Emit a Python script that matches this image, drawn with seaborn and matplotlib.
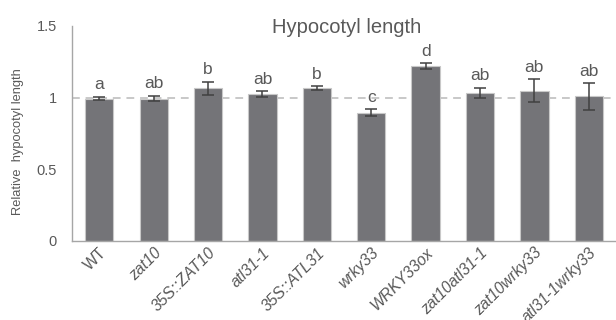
import numpy as np
import pandas as pd
import matplotlib
matplotlib.use("Agg")
import matplotlib.pyplot as plt
import matplotlib.transforms as mtransforms
import seaborn as sns

# Data
genotypes = ["WT", "zat10", "35S::ZAT10", "atl31-1", "35S::ATL31",
             "wrky33", "WRKY33ox", "zat10atl31-1", "zat10wrky33", "atl31-1wrky33"]
rel_length = [0.993, 0.993, 1.065, 1.026, 1.066, 0.895, 1.219, 1.033, 1.049, 1.009]
sem = [0.013, 0.020, 0.046, 0.021, 0.013, 0.022, 0.021, 0.037, 0.082, 0.093]
letters = ["a", "ab", "b", "ab", "b", "c", "d", "ab", "ab", "ab"]
yticks = [0, 0.5, 1, 1.5]
ytick_labels = ["0", "0.5", "1", "1.5"]

sns.set_style("white")
plt.rcParams["font.family"] = ["Liberation Sans", "DejaVu Sans"]

text_col = "#595959"
axis_col = "#a6a6a6"

df = pd.DataFrame({"genotype": genotypes, "value": rel_length})

fig = plt.figure(figsize=(6.16, 3.2), dpi=100)
ax = fig.add_axes([0.117, 0.247, 0.883, 0.672])

sns.barplot(data=df, x="genotype", y="value", color="#747478", saturation=1,
            width=0.52, edgecolor="#c8c8c8", linewidth=0.8, ax=ax, zorder=2)

# reference line at 1
ax.axhline(1, color="#c8c8c8", linestyle=(0, (4, 3)), linewidth=1.4, zorder=1)

x = np.arange(len(genotypes))
ax.errorbar(x, rel_length, yerr=sem, fmt="none", ecolor="#404040",
            elinewidth=1.1, capsize=4, capthick=1.1, zorder=3)

# significance letters
for xi, v, e, lab in zip(x, rel_length, sem, letters):
    ax.text(xi, v + e + 0.03, lab, ha="center", va="bottom",
            fontsize=12.5, color=text_col)

ax.set_title("Hypocotyl length", fontsize=14.5, color=text_col, pad=-5, x=0.504)

ax.set_xlim(-0.5, len(genotypes) - 0.5)
ax.set_ylim(0, 1.5)
ax.set_yticks(yticks)
ax.set_yticklabels(ytick_labels)
ax.set_ylabel("Relative  hypocotyl length", fontsize=9.3, color=text_col)
ax.yaxis.set_label_coords(-0.088, 0.46)
ax.set_xlabel("")

# tick labels: WT upright, mutants italic
ax.set_xticks(x)
ax.set_xticklabels(genotypes, rotation=45, ha="right", rotation_mode="anchor",
                   fontsize=11.3, color=text_col)
offset = mtransforms.ScaledTranslation(6 / 100, 0, fig.dpi_scale_trans)
for lbl in ax.get_xticklabels():
    if lbl.get_text() != "WT":
        lbl.set_style("italic")
    lbl.set_transform(lbl.get_transform() + offset)
ax.tick_params(axis="x", which="major", length=0, pad=3)
ax.set_xticks(np.arange(len(genotypes) + 1) - 0.5, minor=True)
ax.tick_params(axis="x", which="minor", length=5, color=axis_col, direction="out")
ax.tick_params(axis="y", length=6, color=axis_col, direction="inout",
               labelsize=10.5, labelcolor=text_col, pad=8)

sns.despine(ax=ax)
for s in ["left", "bottom"]:
    ax.spines[s].set_color(axis_col)
    ax.spines[s].set_linewidth(1.0)

fig.savefig("out.png", dpi=100)
